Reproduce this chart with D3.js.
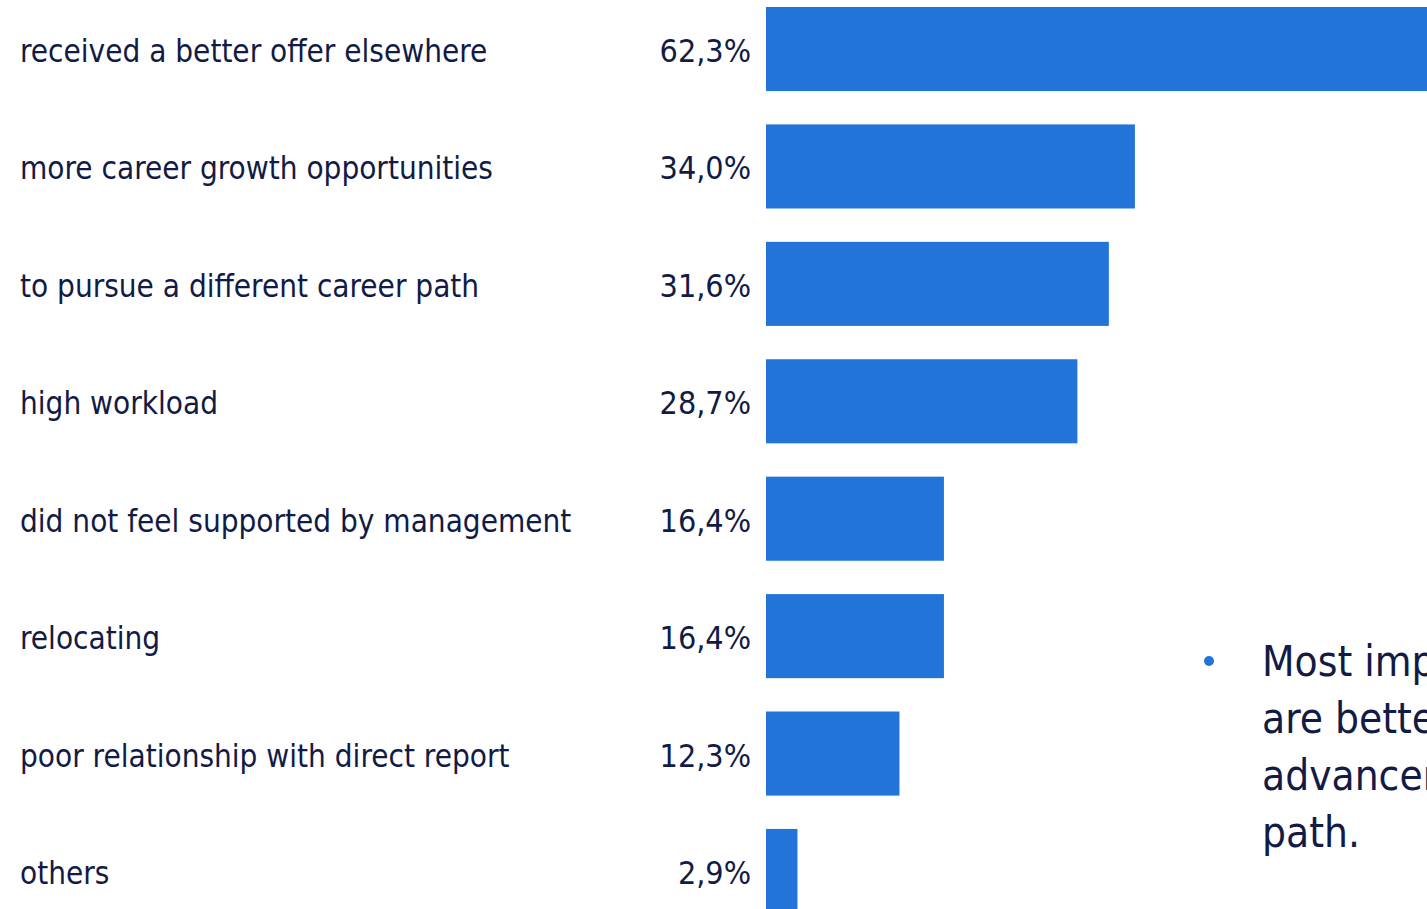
<!DOCTYPE html>
<html>
<head>
<meta charset="utf-8">
<script src="https://cdn.jsdelivr.net/npm/d3@7"></script>
<style>
  html, body { margin: 0; padding: 0; background: #ffffff; overflow: hidden; }
  svg { display: block; }
</style>
</head>
<body>
<svg id="chart" width="1427" height="909"></svg>
<script>
// Reasons for leaving, share of respondents (%)
const reasons = [
  "received a better offer elsewhere",
  "more career growth opportunities",
  "to pursue a different career path",
  "high workload",
  "did not feel supported by management",
  "relocating",
  "poor relationship with direct report",
  "others"
];
const shares = [62.3, 34.0, 31.6, 28.7, 16.4, 16.4, 12.3, 2.9];
const noteLines = ["Most important", "are better", "advancement", "path."];

const BAR = "#2274d9";
const INK = "#121b45";
const FONT = "Tahoma, 'DejaVu Sans Condensed', 'DejaVu Sans', sans-serif";

const rows = reasons.map((r, i) => ({ reason: r, value: shares[i] }));
const svg = d3.select("#chart");
const fmt = v => d3.format(".1f")(v).replace(".", ",") + "%";

const y = d3.scaleBand()
  .domain(reasons)
  .range([7, 913])
  .paddingInner(0.284)
  .paddingOuter(0);

const x = d3.scaleLinear()
  .domain([0, 100])
  .range([766, 1851]);

const g = svg.append("g");

g.selectAll("rect.bar")
  .data(rows)
  .join("rect")
  .attr("class", "bar")
  .attr("x", x(0))
  .attr("y", d => y(d.reason))
  .attr("width", d => x(d.value) - x(0))
  .attr("height", y.bandwidth())
  .attr("fill", BAR);

g.selectAll("text.cat")
  .data(rows)
  .join("text")
  .attr("class", "cat")
  .attr("x", 20)
  .attr("y", d => y(d.reason) + y.bandwidth() / 2 + 13)
  .attr("font-family", FONT)
  .attr("font-size", 31.2)
  .attr("fill", INK)
  .text(d => d.reason);

g.selectAll("text.val")
  .data(rows)
  .join("text")
  .attr("class", "val")
  .attr("x", 751)
  .attr("y", d => y(d.reason) + y.bandwidth() / 2 + 13)
  .attr("text-anchor", "end")
  .attr("font-family", FONT)
  .attr("font-size", 32)
  .attr("fill", INK)
  .text(d => fmt(d.value));

// Side note with bullet
const note = svg.append("g");
note.append("circle")
  .attr("cx", 1209)
  .attr("cy", 661)
  .attr("r", 5)
  .attr("fill", BAR);

note.selectAll("text")
  .data(noteLines)
  .join("text")
  .attr("x", 1262)
  .attr("y", (d, i) => 676 + i * 57)
  .attr("font-family", FONT)
  .attr("font-size", 42)
  .attr("fill", INK)
  .text(d => d);
</script>
</body>
</html>
